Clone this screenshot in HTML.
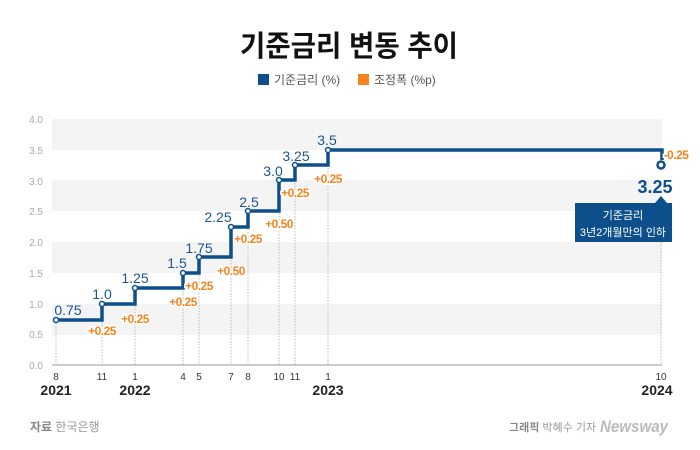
<!DOCTYPE html>
<html><head><meta charset="utf-8"><style>
body{margin:0;background:#fff}
svg{display:block}
text{font-family:"Liberation Sans","Noto Sans CJK KR",sans-serif}
.o{fill:#f4841f;font-size:12px;font-weight:bold;stroke:#fff;stroke-width:3px;paint-order:stroke;letter-spacing:-0.5px}
.b{fill:#1b5592;font-size:14px}
.m{fill:#333;font-size:10px}
.y{fill:#222;font-size:14px;font-weight:bold}
.ax{fill:#aaa;font-size:10px}
</style></head><body>
<svg width="700" height="450" viewBox="0 0 700 450">
<rect width="700" height="450" fill="#fff"/>
<text x="349" y="56" text-anchor="middle" font-size="29" font-weight="bold" fill="#111" textLength="218" lengthAdjust="spacingAndGlyphs">기준금리 변동 추이</text>
<rect x="258" y="74" width="11" height="11" fill="#0d4f8b"/>
<text x="274" y="84" font-size="12" fill="#555">기준금리 (%)</text>
<rect x="358" y="74" width="11" height="11" fill="#f4841f"/>
<text x="374" y="84" font-size="12" fill="#555">조정폭 (%p)</text>
<g fill="#f4f4f4">
<rect x="52" y="119" width="610" height="31"/>
<rect x="52" y="180" width="610" height="31"/>
<rect x="52" y="242" width="610" height="31"/>
<rect x="52" y="304" width="610" height="31"/>
</g>
<line x1="52" y1="365" x2="662" y2="365" stroke="#999" stroke-width="1"/>
<g class="ax" text-anchor="end">
<text x="43" y="123">4.0</text><text x="43" y="154">3.5</text><text x="43" y="185">3.0</text><text x="43" y="215">2.5</text>
<text x="43" y="246">2.0</text><text x="43" y="277">1.5</text><text x="43" y="308">1.0</text><text x="43" y="338">0.5</text><text x="43" y="369">0.0</text>
</g>
<g stroke="#bbb" stroke-width="1" stroke-dasharray="1.5,1.5">
<line x1="56" y1="320" x2="56" y2="365"/><line x1="102" y1="304" x2="102" y2="365"/><line x1="135" y1="288" x2="135" y2="365"/>
<line x1="183" y1="273" x2="183" y2="365"/><line x1="199" y1="257" x2="199" y2="365"/><line x1="231" y1="227" x2="231" y2="365"/>
<line x1="248" y1="211" x2="248" y2="365"/><line x1="279" y1="180" x2="279" y2="365"/><line x1="295" y1="165" x2="295" y2="365"/>
<line x1="328" y1="150" x2="328" y2="365"/><line x1="661" y1="242" x2="661" y2="365"/>
</g>
<path d="M56 320H102V304H135V288H183V273H199V257H231V227H248V211H279V180H295V165H328V150H662V160" fill="none" stroke="#0d4f8b" stroke-width="3.5"/>
<g fill="#fff" stroke="#0d4f8b" stroke-width="1.5">
<circle cx="56" cy="320" r="2.5"/><circle cx="102" cy="304" r="2.5"/><circle cx="135" cy="288" r="2.5"/><circle cx="183" cy="273" r="2.5"/>
<circle cx="199" cy="257" r="2.5"/><circle cx="231" cy="227" r="2.5"/><circle cx="248" cy="211" r="2.5"/><circle cx="279" cy="180" r="2.5"/>
<circle cx="295" cy="165" r="2.5"/><circle cx="328" cy="150" r="2.5"/>
</g>
<circle cx="661" cy="165" r="3.5" fill="#fff" stroke="#0d4f8b" stroke-width="2.5"/>
<g class="b" text-anchor="middle">
<text x="68" y="315">0.75</text><text x="102" y="299">1.0</text><text x="135" y="283">1.25</text><text x="177" y="268">1.5</text>
<text x="199" y="253">1.75</text><text x="218" y="222">2.25</text><text x="249" y="207">2.5</text><text x="273" y="176">3.0</text>
<text x="296" y="161">3.25</text><text x="327" y="145">3.5</text>
</g>
<g class="o" text-anchor="middle">
<text x="102" y="335">+0.25</text><text x="135" y="323">+0.25</text><text x="183" y="306">+0.25</text><text x="199" y="290">+0.25</text>
<text x="231" y="275">+0.50</text><text x="248" y="243">+0.25</text><text x="279" y="228">+0.50</text><text x="295" y="197">+0.25</text>
<text x="328" y="183">+0.25</text><text x="676" y="159">-0.25</text>
</g>
<text x="655" y="193" text-anchor="middle" font-size="18" font-weight="bold" fill="#0d4f8b">3.25</text>
<path d="M655 203L661 196L667 203Z" fill="#0d4f8b"/>
<rect x="575" y="203" width="97" height="39" fill="#0d4f8b"/>
<text x="623" y="219" text-anchor="middle" font-size="11" fill="#fff">기준금리</text>
<text x="623" y="236" text-anchor="middle" font-size="11" fill="#fff">3년2개월만의 인하</text>
<g class="m" text-anchor="middle">
<text x="56" y="380">8</text><text x="102" y="380">11</text><text x="135" y="380">1</text><text x="183" y="380">4</text><text x="199" y="380">5</text>
<text x="231" y="380">7</text><text x="248" y="380">8</text><text x="279" y="380">10</text><text x="295" y="380">11</text><text x="328" y="380">1</text><text x="661" y="380">10</text>
</g>
<g class="y" text-anchor="middle">
<text x="56" y="395">2021</text><text x="135" y="395">2022</text><text x="328" y="395">2023</text><text x="657" y="395">2024</text>
</g>
<text x="30" y="431" font-size="12" fill="#999"><tspan font-weight="bold" fill="#888">자료</tspan> 한국은행</text>
<text x="509" y="431" font-size="11" fill="#999"><tspan font-weight="bold" fill="#888">그래픽</tspan> 박혜수 기자</text>
<text x="600" y="432" font-size="17" font-weight="bold" font-style="italic" font-family="Liberation Serif,serif" fill="#bbb" textLength="68" lengthAdjust="spacingAndGlyphs">Newsway</text>
</svg>
</body></html>
